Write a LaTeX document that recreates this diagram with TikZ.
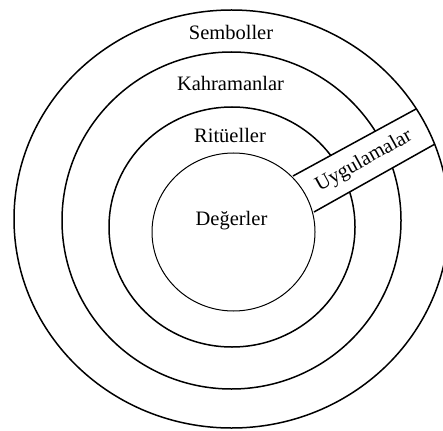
\documentclass[tikz,border=0pt]{standalone}
\usepackage{fontspec}
\setmainfont{Liberation Serif}
\begin{document}
\begin{tikzpicture}[x=1pt,y=-1pt,
  ring/.style={line width=1.5pt},
  core/.style={line width=1pt},
  lbl/.style={font=\fontsize{20.5}{24}\selectfont, anchor=base, inner sep=0pt}]
\useasboundingbox (0,0) rectangle (443,430);
\clip (0,0) rectangle (443,430);
% middle rings
\draw[ring] (231.5,220.5) ellipse [x radius=169.5, y radius=168.5];
\draw[ring] (232,227) ellipse [x radius=123, y radius=120];
% band crossing the rings
\coordinate (bi1) at (293,176);
\coordinate (bo1) at (416,109);
\coordinate (bo2) at (435,144);
\coordinate (bi2) at (314,212);
\fill[white] (bi1) -- (bo1) -- (bo2) -- (bi2) -- cycle;
\draw[ring] (bi1) -- (bo1);
\draw[ring] (bi2) -- (bo2);
% core and outer ring
\draw[core] (233.5,232) ellipse [x radius=81.5, y radius=79];
\draw[ring] (231.5,219) ellipse [x radius=217.5, y radius=209];
% labels
\node[lbl] (semboller) at (231,40) {Semboller};
\node[lbl] (kahramanlar) at (230.5,90.5) {Kahramanlar};
\node[lbl] (rituel) at (230,142.5) {Ritüeller};
\node[lbl] (deger) at (231.5,225.5) {Değerler};
\node[font=\fontsize{20.5}{24}\selectfont, inner sep=0pt, rotate=29] (uygulama) at (364,161) {Uygulamalar};
\end{tikzpicture}
\end{document}
